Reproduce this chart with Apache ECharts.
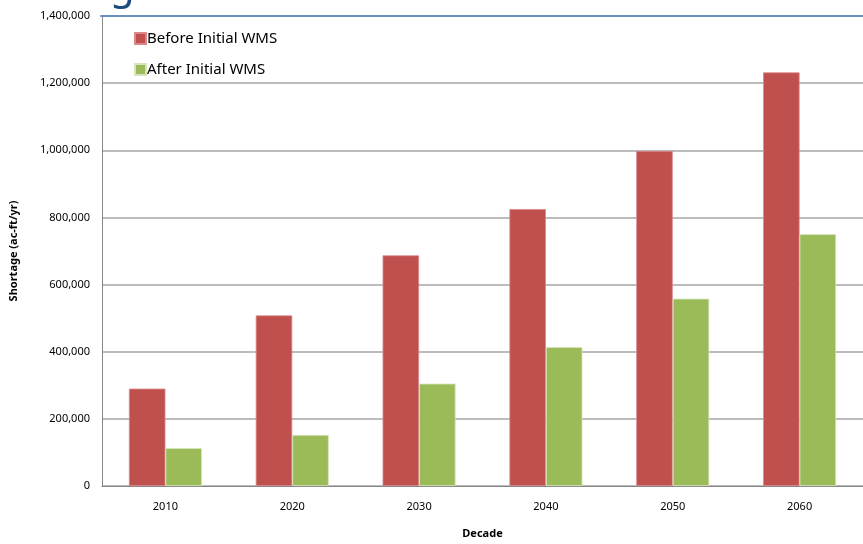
<!DOCTYPE html>
<html>
<head>
<meta charset="utf-8">
<script src="https://cdn.jsdelivr.net/npm/echarts@6/dist/echarts.min.js"></script>
<style>
  html, body { margin: 0; padding: 0; background: #fff; overflow: hidden; }
  #chart { width: 863px; height: 544px; }
</style>
</head>
<body>
<div id="chart"></div>
<script>
// Water shortage by decade, before and after the initial water management strategies
const decades = ['2010', '2020', '2030', '2040', '2050', '2060'];
const beforeWMS = [290000, 508000, 687000, 825000, 998000, 1232000];
const afterWMS = [113000, 152000, 305000, 414000, 558000, 750000];
const yTicks = { min: 0, max: 1400000, interval: 200000 };

const FONT = '"Noto Sans", "Open Sans", sans-serif';
const chart = echarts.init(document.getElementById('chart'), null, { renderer: 'canvas' });

chart.setOption({
  animation: false,
  backgroundColor: '#ffffff',
  textStyle: { fontFamily: FONT },
  graphic: [
    // slide heading descender peeking in at the top edge
    {
      type: 'text', left: 110, top: -32, silent: true,
      style: { text: 'g', fontSize: 40, fontFamily: FONT, fill: '#1F497D' }
    },
    // blue rule along the top of the plot
    {
      type: 'line', silent: true, z: 10,
      shape: { x1: 100, y1: 16, x2: 863, y2: 16 },
      style: { stroke: '#4F81BD', lineWidth: 1.5 }
    }
  ],
  legend: {
    orient: 'vertical',
    left: 129,
    top: 26,
    itemWidth: 11,
    itemHeight: 11,
    itemGap: 16,
    icon: 'rect',
    textStyle: { fontSize: 15, color: '#000', fontFamily: FONT, padding: [0, 0, 0, -4] },
    data: ['Before Initial WMS', 'After Initial WMS']
  },
  grid: { left: 100, top: 16, width: 766, bottom: 55, containLabel: false },
  xAxis: {
    type: 'category',
    data: decades,
    name: 'Decade',
    nameLocation: 'middle',
    nameGap: 42,
    nameTextStyle: { fontSize: 11, fontWeight: 'bold', color: '#000', fontFamily: FONT },
    axisLine: { lineStyle: { color: '#868686', width: 1 } },
    axisTick: { show: false },
    axisLabel: { fontSize: 11, color: '#000', margin: 15, fontFamily: FONT }
  },
  yAxis: {
    type: 'value',
    min: yTicks.min,
    max: yTicks.max,
    interval: yTicks.interval,
    name: 'Shortage (ac-ft/yr)',
    nameLocation: 'middle',
    nameGap: 83,
    nameRotate: 90,
    nameTextStyle: { fontSize: 11, fontWeight: 'bold', color: '#000', fontFamily: FONT },
    axisLine: { show: true, lineStyle: { color: '#868686', width: 1 } },
    axisTick: { show: false },
    axisLabel: {
      fontSize: 11, color: '#000', margin: 12, fontFamily: FONT,
      formatter: v => v.toLocaleString('en-US')
    },
    splitLine: { lineStyle: { color: '#A6A6A6', width: 1.5 } }
  },
  series: [
    {
      name: 'Before Initial WMS',
      type: 'bar',
      data: beforeWMS,
      barWidth: 36.5,
      barGap: '0%',
      itemStyle: { color: '#C0504D', borderColor: '#D9898A', borderWidth: 0.8 }
    },
    {
      name: 'After Initial WMS',
      type: 'bar',
      data: afterWMS,
      barWidth: 36.5,
      itemStyle: { color: '#9BBB59', borderColor: '#D7E4BD', borderWidth: 0.8 }
    }
  ]
});
</script>
</body>
</html>
